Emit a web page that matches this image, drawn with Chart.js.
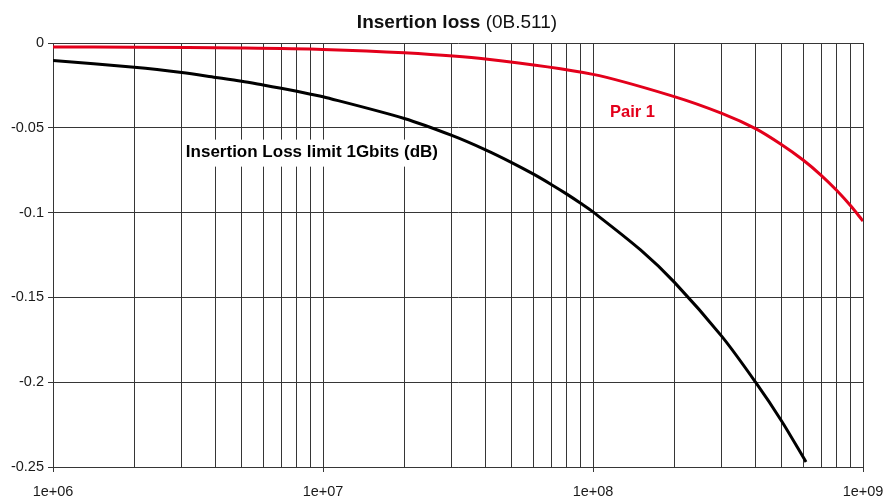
<!DOCTYPE html>
<html>
<head>
<meta charset="utf-8">
<script src="https://cdn.jsdelivr.net/npm/chart.js@4"></script>
<style>
  html, body { margin: 0; padding: 0; background: #ffffff; }
  #wrap { width: 883px; height: 502px; position: relative; }
</style>
</head>
<body>
<div id="wrap"><canvas id="c" width="883" height="502"></canvas></div>
<script>
// ---- data ----
const limitFreq = [1e6, 2e6, 3e6, 4e6, 5e6, 6e6, 7e6, 8e6, 9e6, 1e7, 2e7, 3e7, 4e7, 5e7, 6e7, 7e7, 8e7, 9e7, 1e8, 1.5e8, 2e8, 3e8, 4e8, 5e8, 6.15e8];
const limitLoss = [-0.0103, -0.0143, -0.0174, -0.0203, -0.0226, -0.0248, -0.0267, -0.0285, -0.0302, -0.0317, -0.0445, -0.0545, -0.0630, -0.0705, -0.0772, -0.0834, -0.0891, -0.0945, -0.0996, -0.1220, -0.1410, -0.1730, -0.2000, -0.2230, -0.2470];

const pairFreq = [1e6, 2e6, 5e6, 1e7, 2e7, 4e7, 1e8, 2e8, 3e8, 4e8, 5e8, 6e8, 7e8, 8e8, 9e8, 1e9];
const pairLoss = [-0.0024, -0.0025, -0.0030, -0.0038, -0.0058, -0.0094, -0.0185, -0.0316, -0.0415, -0.0505, -0.0600, -0.0690, -0.0780, -0.0870, -0.0960, -0.1050];

const seriesNames = ["Insertion Loss limit 1Gbits (dB)", "Pair 1"];
const yTicks = [0, -0.05, -0.1, -0.15, -0.2, -0.25];
const xDecades = [1e6, 1e7, 1e8, 1e9];
const xDecadeLabels = ["1e+06", "1e+07", "1e+08", "1e+09"];
const titleBold = "Insertion loss";
const titleNormal = " (0B.511)";

const FONT = "'Liberation Sans', Arial, Helvetica, sans-serif";
const GRID = '#363636';
const RED = '#e3001b';

function isDecade(v) {
  return xDecades.some(d => Math.abs(v - d) / d < 1e-9);
}

const labelPlugin = {
  id: 'labels',
  beforeDatasetsDraw(chart) {
    const ctx = chart.ctx;
    const xs = chart.scales.x, ys = chart.scales.y;
    ctx.save();
    ctx.font = "bold 17px " + FONT;
    const w = ctx.measureText(seriesNames[0]).width;
    const cx = xs.getPixelForValue(9.1e6);
    const by = ys.getPixelForValue(-0.0670);
    ctx.fillStyle = '#ffffff';
    ctx.fillRect(cx - w / 2 - 3, by - 17, w + 6, 27);
    ctx.restore();
  },
  afterDatasetsDraw(chart) {
    const ctx = chart.ctx;
    const xs = chart.scales.x, ys = chart.scales.y;
    ctx.save();
    ctx.textBaseline = 'alphabetic';
    ctx.textAlign = 'center';
    ctx.font = "bold 17px " + FONT;
    ctx.fillStyle = '#000000';
    ctx.fillText(seriesNames[0], xs.getPixelForValue(9.1e6), ys.getPixelForValue(-0.0670));
    ctx.font = "bold 16.5px " + FONT;
    ctx.fillStyle = RED;
    ctx.fillText(seriesNames[1], xs.getPixelForValue(1.4e8), ys.getPixelForValue(-0.0434));
    ctx.textAlign = 'left';
    ctx.fillStyle = '#111111';
    ctx.font = "bold 19px " + FONT;
    const wb = ctx.measureText(titleBold).width;
    ctx.font = "19px " + FONT;
    const wn = ctx.measureText(titleNormal).width;
    const x0 = 457 - (wb + wn) / 2;
    ctx.font = "bold 19px " + FONT;
    ctx.fillText(titleBold, x0, 28);
    ctx.font = "19px " + FONT;
    ctx.fillText(titleNormal, x0 + wb, 28);
    ctx.restore();
  }
};

new Chart(document.getElementById('c'), {
  type: 'line',
  data: {
    datasets: [
      {
        label: seriesNames[0],
        data: limitFreq.map((f, i) => ({ x: f, y: limitLoss[i] })),
        borderColor: '#000000',
        borderWidth: 3,
        pointRadius: 0,
        tension: 0.3,
        fill: false
      },
      {
        label: seriesNames[1],
        data: pairFreq.map((f, i) => ({ x: f, y: pairLoss[i] })),
        borderColor: RED,
        borderWidth: 3,
        pointRadius: 0,
        tension: 0.3,
        fill: false
      }
    ]
  },
  options: {
    responsive: false,
    animation: false,
    events: [],
    layout: { padding: { top: 43, right: 0, left: 0, bottom: 0 } },
    plugins: {
      legend: { display: false },
      title: { display: false },
      tooltip: { enabled: false }
    },
    scales: {
      x: {
        type: 'logarithmic',
        min: 1e6,
        max: 1e9,
        afterBuildTicks(scale) {
          const t = [];
          for (let e = 6; e <= 9; e++) {
            for (let m = 1; m <= 9; m++) {
              const v = m * Math.pow(10, e);
              if (v <= 1e9 * 1.0000001) t.push({ value: v });
            }
          }
          scale.ticks = t;
        },
        afterFit(scale) {
          scale.height = 35;
          scale.paddingRight = 20;
          scale.paddingLeft = 0;
        },
        grid: {
          color: GRID,
          lineWidth: 1,
          tickLength: 5,
          tickColor: (c) => (c.tick && isDecade(c.tick.value)) ? GRID : 'rgba(0,0,0,0)'
        },
        border: { display: true, color: GRID, width: 1 },
        ticks: {
          autoSkip: false,
          maxRotation: 0,
          minRotation: 0,
          padding: 11,
          color: '#1a1a1a',
          font: { family: FONT, size: 14.5 },
          callback: (v) => {
            const i = xDecades.findIndex(d => Math.abs(v - d) / d < 1e-9);
            return i >= 0 ? xDecadeLabels[i] : '';
          }
        }
      },
      y: {
        type: 'linear',
        min: -0.25,
        max: 0,
        afterBuildTicks(scale) {
          scale.ticks = yTicks.map(v => ({ value: v }));
        },
        afterFit(scale) { scale.width = 53; },
        grid: { color: GRID, lineWidth: 1, tickLength: 5, tickColor: GRID },
        border: { display: true, color: GRID, width: 1 },
        ticks: {
          padding: 4,
          color: '#1a1a1a',
          font: { family: FONT, size: 14.5 },
          callback: (v) => {
            const r = Math.round(v * 100) / 100;
            return r === 0 ? '0' : String(r);
          }
        }
      }
    }
  },
  plugins: [labelPlugin]
});
</script>
</body>
</html>
